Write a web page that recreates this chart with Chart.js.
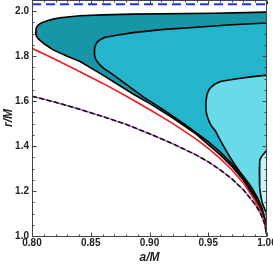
<!DOCTYPE html>
<html>
<head>
<meta charset="utf-8">
<script src="https://cdn.jsdelivr.net/npm/chart.js@4.4.0/dist/chart.umd.min.js"></script>
<style>
  html, body { margin: 0; padding: 0; background: #fff; }
  #chart { display: block; }
</style>
</head>
<body>
<canvas id="chart" width="273" height="267"></canvas>
<script>
// values: [a/M, r/M]
const outerUpper = [[0.803,1.908],[0.80338,1.921],[0.80419,1.930],[0.8051,1.938],[0.8066,1.944],[0.8083,1.949],[0.8123,1.957],[0.818,1.965],[0.8237,1.971],[0.8408,1.980],[0.86,1.984],[0.8861,1.987],[0.9544,1.991],[1.0,1.996]];
const outerLower = [[0.803,1.908],[0.80338,1.895],[0.80419,1.886],[0.8053,1.878],[0.8066,1.871],[0.8109,1.853],[0.818,1.828],[0.83,1.80],[0.841,1.776],[0.86,1.717],[0.886,1.632],[0.90,1.59],[0.92,1.525],[0.94,1.452],[0.96,1.362],[0.97,1.31],[0.98,1.248],[0.99,1.166],[0.995,1.114],[0.998,1.067],[1.0,1.0]];

const midUpper = [[0.853,1.819],[0.8532,1.832],[0.8537,1.845],[0.8546,1.856],[0.8555,1.863],[0.8579,1.873],[0.8622,1.884],[0.8721,1.893],[0.886,1.905],[0.91,1.918],[0.943,1.93],[0.97,1.94],[1.0,1.948]];
const midLower = [[0.853,1.819],[0.8532,1.806],[0.8538,1.792],[0.855,1.779],[0.858,1.760],[0.861,1.746],[0.869,1.718],[0.877,1.687],[0.886,1.652],[0.895,1.618],[0.91,1.568],[0.93,1.497],[0.95,1.42],[0.96,1.375],[0.97,1.322],[0.98,1.258],[0.99,1.175],[0.995,1.122],[0.998,1.073],[1.0,1.0]];

const lightUpper = [[0.9479,1.575],[0.94795,1.591],[0.9483,1.609],[0.949,1.631],[0.9506,1.651],[0.9527,1.664],[0.9557,1.676],[0.9604,1.687],[0.9664,1.693],[0.976,1.701],[0.9861,1.708],[1.0,1.716]];
const lightLower = [[0.9479,1.575],[0.9481,1.556],[0.9491,1.533],[0.9506,1.511],[0.9527,1.489],[0.9562,1.467],[0.959,1.438],[0.963,1.40],[0.968,1.355],[0.9725,1.318],[0.977,1.285],[0.982,1.252],[0.987,1.215],[0.992,1.17],[0.996,1.12],[0.999,1.06],[1.0,1.0]];

const paleUpper = [[0.9935,1.308],[0.9936,1.322],[0.9939,1.334],[0.9945,1.345],[0.9955,1.354],[0.9966,1.361],[0.9983,1.372],[1.0,1.382]];
const paleLower = [[0.9935,1.308],[0.99352,1.28],[0.9937,1.249],[0.9940,1.215],[0.9944,1.19],[0.9952,1.165],[0.9961,1.145],[0.9983,1.116],[1.0,1.10]];

const redCurve = [[0.80,1.835],[0.82,1.785],[0.84,1.733],[0.86,1.68],[0.88,1.623],[0.90,1.563],[0.92,1.50],[0.94,1.43],[0.95,1.39],[0.96,1.345],[0.97,1.295],[0.98,1.235],[0.99,1.155],[0.995,1.105],[0.998,1.06],[1.0,1.0]];
const dashedCurve = [[0.80,1.622],[0.82,1.595],[0.84,1.565],[0.86,1.532],[0.88,1.497],[0.90,1.455],[0.92,1.41],[0.94,1.36],[0.95,1.33],[0.96,1.295],[0.97,1.255],[0.98,1.205],[0.99,1.14],[0.995,1.095],[0.998,1.055],[1.0,1.0]];
const blueLine = [[0.80,2.031],[1.0,2.031]];

const xTickVals = [0.80, 0.85, 0.90, 0.95, 1.00];
const xTickLabels = ['0.80', '0.85', '0.90', '0.95', '1.00'];
const yTickVals = [1.0, 1.2, 1.4, 1.6, 1.8, 2.0];
const yTickLabels = ['1.0', '1.2', '1.4', '1.6', '1.8', '2.0'];

const pts = arr => arr.map(([a, r]) => ({x: a, y: r}));

function region(upper, lower, color, order) {
    return [
        {data: pts(upper), borderColor: '#000', borderWidth: 1.6, backgroundColor: color, fill: '+1', order: order},
        {data: pts(lower), borderColor: '#000', borderWidth: 1.6, fill: false, order: order - 1},
    ];
}

// inward frame ticks on all four sides
const frameTicks = {
    id: 'frameTicks',
    afterDraw(chart) {
        const {ctx, chartArea: ca, scales: {x, y}} = chart;
        const L = Math.round(ca.left) + 0.5, R = Math.round(ca.right) - 0.5;
        const T = Math.round(ca.top) + 0.5, B = Math.round(ca.bottom) + 0.5;
        ctx.save();
        ctx.strokeStyle = '#444';
        ctx.lineWidth = 1;
        ctx.strokeRect(L, T, R - L, B - T);
        ctx.beginPath();
        for (let i = 0; i <= 20; i++) {
            const px = Math.round(x.getPixelForValue(0.8 + i * 0.01)) + 0.5;
            const len = i % 5 === 0 ? 4 : 2;
            ctx.moveTo(px, B); ctx.lineTo(px, B - len);
            ctx.moveTo(px, T); ctx.lineTo(px, T + len);
        }
        for (let i = 0; i <= 21; i++) {
            const py = Math.round(y.getPixelForValue(1.0 + i * 0.05)) + 0.5;
            const len = i % 4 === 0 ? 4 : 2;
            ctx.moveTo(L, py); ctx.lineTo(L + len, py);
            ctx.moveTo(R, py); ctx.lineTo(R - len, py);
        }
        ctx.stroke();
        ctx.restore();
    }
};

const tickFont = {family: "'Liberation Sans', Arial, sans-serif", size: 10, weight: 'bold'};
const titleFont = {family: "'Liberation Sans', Arial, sans-serif", size: 12, weight: 'bold', style: 'italic'};

new Chart(document.getElementById('chart'), {
    type: 'line',
    data: {
        datasets: [
            ...region(outerUpper, outerLower, '#1696a6', 20),
            ...region(midUpper, midLower, '#24b5cd', 18),
            ...region(lightUpper, lightLower, '#69dae8', 16),
            ...region(paleUpper, paleLower, '#c8f4f8', 14),
            {data: pts(redCurve), borderColor: '#f01c1c', borderWidth: 1.6, fill: false, order: 5},
            {data: pts(dashedCurve), borderColor: '#b65cc6', borderWidth: 1.4, fill: false, order: 4},
            {data: pts(dashedCurve), borderColor: '#111', borderWidth: 1.6, borderDash: [5, 2.5], fill: false, order: 3},
            {data: pts(blueLine), borderColor: '#2233ee', borderWidth: 2, borderDash: [9, 5], fill: false, order: 2},
        ]
    },
    options: {
        responsive: false,
        animation: false,
        devicePixelRatio: 1,
        layout: {padding: {left: 0, right: 6, top: 0, bottom: 0}},
        elements: {
            point: {radius: 0, hoverRadius: 0},
            line: {tension: 0},
        },
        plugins: {
            legend: {display: false},
            tooltip: {enabled: false},
            filler: {drawTime: 'beforeDatasetsDraw'},
        },
        events: [],
        scales: {
            x: {
                type: 'linear',
                min: 0.8,
                max: 1.0,
                grid: {display: false, drawTicks: false, tickLength: 0},
                border: {display: false},
                afterBuildTicks: s => { s.ticks = xTickVals.map(v => ({value: v})); },
                afterFit: s => { s.height = 31; s.paddingLeft = 0; s.paddingRight = 0; },
                ticks: {
                    autoSkip: false,
                    maxRotation: 0,
                    padding: 1,
                    color: '#222',
                    font: tickFont,
                    callback: (v, i) => xTickLabels[i],
                },
                title: {display: true, text: 'a/M', color: '#222', font: titleFont, padding: {top: 0, bottom: 2}},
            },
            y: {
                type: 'linear',
                min: 1.0,
                max: 2.05,
                grid: {display: false, drawTicks: false, tickLength: 0},
                border: {display: false},
                afterBuildTicks: s => { s.ticks = yTickVals.map(v => ({value: v})); },
                afterFit: s => { s.width = 32; s.paddingTop = 0; s.paddingBottom = 0; },
                ticks: {
                    autoSkip: false,
                    padding: 3,
                    color: '#222',
                    font: tickFont,
                    callback: (v, i) => yTickLabels[i],
                },
                title: {display: true, text: 'r/M', color: '#222', font: titleFont, padding: {top: 1, bottom: 0}},
            },
        },
    },
    plugins: [frameTicks],
});
</script>
</body>
</html>
